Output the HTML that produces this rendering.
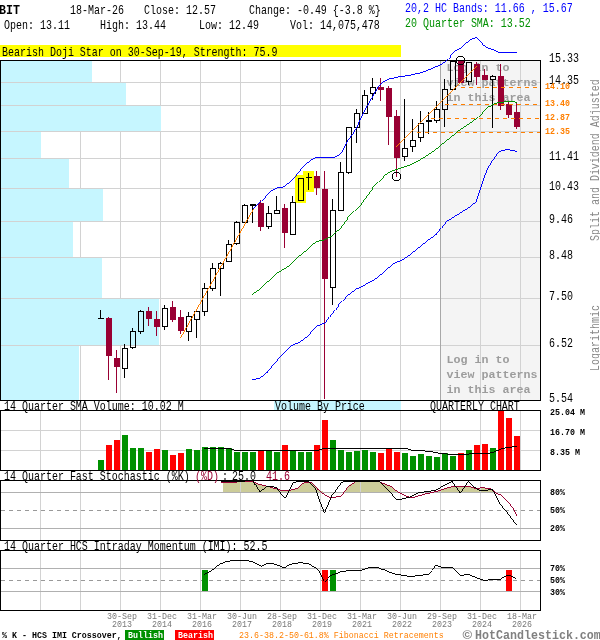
<!DOCTYPE html>
<html><head><meta charset="utf-8"><title>BIT Quarterly Chart</title>
<style>html,body{margin:0;padding:0;background:#fff}svg{display:block}</style></head>
<body>
<svg width="600" height="640" viewBox="0 0 600 640" shape-rendering="crispEdges" font-family="Liberation Mono, DejaVu Sans Mono, monospace">
<rect x="0" y="0" width="600" height="640" fill="#fff" />
<text transform="translate(-1,13.5) scale(0.9044,1)" font-size="12.9" fill="#000" font-weight="bold" text-anchor="start" xml:space="preserve" >BIT</text>
<text transform="translate(70,13.8) scale(0.8,1)" font-size="12.5" fill="#000" text-anchor="start" xml:space="preserve" >18-Mar-26</text>
<text transform="translate(144,13.8) scale(0.8,1)" font-size="12.5" fill="#000" text-anchor="start" xml:space="preserve" >Close: 12.57</text>
<text transform="translate(249,13.8) scale(0.8,1)" font-size="12.5" fill="#000" text-anchor="start" xml:space="preserve" >Change: -0.49 {-3.8 %}</text>
<text transform="translate(4,28.8) scale(0.8,1)" font-size="12.5" fill="#000" text-anchor="start" xml:space="preserve" >Open: 13.11</text>
<text transform="translate(100,28.8) scale(0.8,1)" font-size="12.5" fill="#000" text-anchor="start" xml:space="preserve" >High: 13.44</text>
<text transform="translate(199,28.8) scale(0.8,1)" font-size="12.5" fill="#000" text-anchor="start" xml:space="preserve" >Low: 12.49</text>
<text transform="translate(290,28.8) scale(0.8,1)" font-size="12.5" fill="#000" text-anchor="start" xml:space="preserve" >Vol: 14,075,478</text>
<text transform="translate(405,11.8) scale(0.8,1)" font-size="12.5" fill="#0000ff" text-anchor="start" xml:space="preserve" >20,2 HC Bands: 11.66 , 15.67</text>
<text transform="translate(405,26.8) scale(0.8,1)" font-size="12.5" fill="#009000" text-anchor="start" xml:space="preserve" >20 Quarter SMA: 13.52</text>
<rect x="0" y="45" width="401" height="12" fill="#ffff00" />
<text transform="translate(2,55.599999999999994) scale(0.8,1)" font-size="12.5" fill="#000" text-anchor="start" xml:space="preserve" >Bearish Doji Star on 30-Sep-19, Strength: 75.9</text>
<rect x="441" y="61" width="99" height="339" fill="#f4f4f4" />
<rect x="40" y="61" width="1" height="339" fill="#d2d2d2" />
<rect x="80" y="61" width="1" height="339" fill="#d2d2d2" />
<rect x="120" y="61" width="1" height="339" fill="#d2d2d2" />
<rect x="160" y="61" width="1" height="339" fill="#d2d2d2" />
<rect x="200" y="61" width="1" height="339" fill="#d2d2d2" />
<rect x="240" y="61" width="1" height="339" fill="#d2d2d2" />
<rect x="280" y="61" width="1" height="339" fill="#d2d2d2" />
<rect x="320" y="61" width="1" height="339" fill="#d2d2d2" />
<rect x="360" y="61" width="1" height="339" fill="#d2d2d2" />
<rect x="400" y="61" width="1" height="339" fill="#d2d2d2" />
<rect x="440" y="61" width="1" height="339" fill="#d2d2d2" />
<rect x="480" y="61" width="1" height="339" fill="#d2d2d2" />
<rect x="520" y="61" width="1" height="339" fill="#d2d2d2" />
<rect x="1" y="82" width="539" height="1" fill="#d2d2d2" />
<rect x="1" y="105" width="539" height="1" fill="#d2d2d2" />
<rect x="1" y="131" width="539" height="1" fill="#d2d2d2" />
<rect x="1" y="158" width="539" height="1" fill="#d2d2d2" />
<rect x="1" y="188" width="539" height="1" fill="#d2d2d2" />
<rect x="1" y="221" width="539" height="1" fill="#d2d2d2" />
<rect x="1" y="257" width="539" height="1" fill="#d2d2d2" />
<rect x="1" y="298" width="539" height="1" fill="#d2d2d2" />
<rect x="1" y="345" width="539" height="1" fill="#d2d2d2" />
<rect x="440" y="61" width="1" height="339" fill="#a8a8a8" />
<rect x="1" y="61" width="91" height="21" fill="#c6f6ff" />
<rect x="1" y="83" width="125" height="22" fill="#c6f6ff" />
<rect x="1" y="106" width="160" height="25" fill="#c6f6ff" />
<rect x="1" y="132" width="40" height="26" fill="#c6f6ff" />
<rect x="1" y="159" width="68" height="29" fill="#c6f6ff" />
<rect x="1" y="189" width="102" height="32" fill="#c6f6ff" />
<rect x="1" y="222" width="72" height="35" fill="#c6f6ff" />
<rect x="1" y="258" width="101" height="40" fill="#c6f6ff" />
<rect x="1" y="299" width="158" height="46" fill="#c6f6ff" />
<rect x="1" y="346" width="78" height="54" fill="#c6f6ff" />
<rect x="0" y="60" width="541" height="1" fill="#000" />
<rect x="0" y="400" width="541" height="1" fill="#000" />
<rect x="0" y="60" width="1" height="341" fill="#000" />
<rect x="540" y="60" width="1" height="341" fill="#000" />
<text transform="translate(446.5,71) scale(1.08,1)" font-size="10.8" fill="#9c9c9c" font-weight="bold" text-anchor="start" xml:space="preserve" >Log in to</text>
<text transform="translate(446.5,86) scale(1.08,1)" font-size="10.8" fill="#9c9c9c" font-weight="bold" text-anchor="start" xml:space="preserve" >view patterns</text>
<text transform="translate(446.5,101) scale(1.08,1)" font-size="10.8" fill="#9c9c9c" font-weight="bold" text-anchor="start" xml:space="preserve" >in this area</text>
<text transform="translate(446.5,362.5) scale(1.08,1)" font-size="10.8" fill="#9c9c9c" font-weight="bold" text-anchor="start" xml:space="preserve" >Log in to</text>
<text transform="translate(446.5,377.5) scale(1.08,1)" font-size="10.8" fill="#9c9c9c" font-weight="bold" text-anchor="start" xml:space="preserve" >view patterns</text>
<text transform="translate(446.5,392.5) scale(1.08,1)" font-size="10.8" fill="#9c9c9c" font-weight="bold" text-anchor="start" xml:space="preserve" >in this area</text>
<rect x="295" y="175" width="11" height="28" fill="#ffff00" />
<rect x="303" y="171" width="11" height="21" fill="#ffff00" />
<rect x="100" y="310" width="1" height="9" fill="#000" />
<rect x="98" y="318" width="6" height="1" fill="#000" />
<rect x="108" y="317" width="1" height="63" fill="#990033" />
<rect x="106" y="318" width="6" height="38" fill="#990033" />
<rect x="116" y="350" width="1" height="43" fill="#990033" />
<rect x="114" y="358" width="6" height="9" fill="#990033" />
<rect x="124" y="344" width="1" height="4" fill="#000" />
<rect x="124" y="369" width="1" height="9" fill="#000" />
<rect x="122.5" y="348.5" width="5" height="20" fill="none" stroke="#000" stroke-width="1"/>
<rect x="132" y="328" width="1" height="3" fill="#000" />
<rect x="132" y="348" width="1" height="1" fill="#000" />
<rect x="130.5" y="331.5" width="5" height="16" fill="none" stroke="#000" stroke-width="1"/>
<rect x="140" y="310" width="1" height="1" fill="#000" />
<rect x="140" y="332" width="1" height="2" fill="#000" />
<rect x="138.5" y="311.5" width="5" height="20" fill="none" stroke="#000" stroke-width="1"/>
<rect x="148" y="307" width="1" height="19" fill="#990033" />
<rect x="146" y="311" width="6" height="8" fill="#990033" />
<rect x="156" y="311" width="1" height="25" fill="#990033" />
<rect x="154" y="319" width="6" height="8" fill="#990033" />
<rect x="164" y="305" width="1" height="3" fill="#000" />
<rect x="164" y="327" width="1" height="3" fill="#000" />
<rect x="162.5" y="308.5" width="5" height="18" fill="none" stroke="#000" stroke-width="1"/>
<rect x="172" y="301" width="1" height="21" fill="#990033" />
<rect x="170" y="307" width="6" height="13" fill="#990033" />
<rect x="180" y="310" width="1" height="24" fill="#990033" />
<rect x="178" y="317" width="6" height="14" fill="#990033" />
<rect x="188" y="312" width="1" height="4" fill="#000" />
<rect x="188" y="332" width="1" height="9" fill="#000" />
<rect x="186.5" y="316.5" width="5" height="15" fill="none" stroke="#000" stroke-width="1"/>
<rect x="196" y="320" width="1" height="18" fill="#000" />
<rect x="194.5" y="311.5" width="5" height="8" fill="none" stroke="#000" stroke-width="1"/>
<rect x="204" y="283" width="1" height="5" fill="#000" />
<rect x="204" y="312" width="1" height="4" fill="#000" />
<rect x="202.5" y="288.5" width="5" height="23" fill="none" stroke="#000" stroke-width="1"/>
<rect x="212" y="263" width="1" height="5" fill="#000" />
<rect x="212" y="289" width="1" height="2" fill="#000" />
<rect x="210.5" y="268.5" width="5" height="20" fill="none" stroke="#000" stroke-width="1"/>
<rect x="220" y="262" width="1" height="1" fill="#000" />
<rect x="220" y="269" width="1" height="27" fill="#000" />
<rect x="218.5" y="263.5" width="5" height="5" fill="none" stroke="#000" stroke-width="1"/>
<rect x="228" y="240" width="1" height="4" fill="#000" />
<rect x="226.5" y="244.5" width="5" height="17" fill="none" stroke="#000" stroke-width="1"/>
<rect x="236" y="221" width="1" height="1" fill="#000" />
<rect x="236" y="244" width="1" height="1" fill="#000" />
<rect x="234.5" y="222.5" width="5" height="21" fill="none" stroke="#000" stroke-width="1"/>
<rect x="244" y="204" width="1" height="1" fill="#000" />
<rect x="242.5" y="205.5" width="5" height="17" fill="none" stroke="#000" stroke-width="1"/>
<rect x="252" y="204" width="1" height="19" fill="#000" />
<rect x="250" y="204" width="6" height="2" fill="#000" />
<rect x="260" y="200" width="1" height="31" fill="#990033" />
<rect x="258" y="203" width="6" height="24" fill="#990033" />
<rect x="268" y="206" width="1" height="7" fill="#000" />
<rect x="268" y="227" width="1" height="2" fill="#000" />
<rect x="266.5" y="213.5" width="5" height="13" fill="none" stroke="#000" stroke-width="1"/>
<rect x="276" y="196" width="1" height="14" fill="#000" />
<rect x="274.5" y="210.5" width="5" height="3" fill="none" stroke="#000" stroke-width="1"/>
<rect x="284" y="204" width="1" height="44" fill="#990033" />
<rect x="282" y="208" width="6" height="25" fill="#990033" />
<rect x="292" y="196" width="1" height="6" fill="#000" />
<rect x="290.5" y="202.5" width="5" height="32" fill="none" stroke="#000" stroke-width="1"/>
<rect x="298.5" y="178.5" width="5" height="22" fill="none" stroke="#000" stroke-width="1"/>
<rect x="308" y="173" width="1" height="17" fill="#000" />
<rect x="306" y="177" width="6" height="1" fill="#000" />
<rect x="316" y="171" width="1" height="24" fill="#990033" />
<rect x="314" y="176" width="6" height="12" fill="#990033" />
<rect x="324" y="171" width="1" height="228" fill="#990033" />
<rect x="322" y="189" width="6" height="90" fill="#990033" />
<rect x="332" y="199" width="1" height="11" fill="#000" />
<rect x="332" y="288" width="1" height="17" fill="#000" />
<rect x="330.5" y="210.5" width="5" height="77" fill="none" stroke="#000" stroke-width="1"/>
<rect x="340" y="162" width="1" height="10" fill="#000" />
<rect x="338.5" y="172.5" width="5" height="38" fill="none" stroke="#000" stroke-width="1"/>
<rect x="348" y="173" width="1" height="1" fill="#000" />
<rect x="346.5" y="127.5" width="5" height="45" fill="none" stroke="#000" stroke-width="1"/>
<rect x="356" y="109" width="1" height="4" fill="#000" />
<rect x="356" y="128" width="1" height="15" fill="#000" />
<rect x="354.5" y="113.5" width="5" height="14" fill="none" stroke="#000" stroke-width="1"/>
<rect x="364" y="90" width="1" height="5" fill="#000" />
<rect x="362.5" y="95.5" width="5" height="18" fill="none" stroke="#000" stroke-width="1"/>
<rect x="372" y="78" width="1" height="9" fill="#000" />
<rect x="372" y="94" width="1" height="6" fill="#000" />
<rect x="370.5" y="87.5" width="5" height="6" fill="none" stroke="#000" stroke-width="1"/>
<rect x="380" y="78" width="1" height="23" fill="#990033" />
<rect x="378" y="87" width="6" height="3" fill="#990033" />
<rect x="388" y="86" width="1" height="59" fill="#990033" />
<rect x="386" y="88" width="6" height="29" fill="#990033" />
<rect x="396" y="110" width="1" height="67" fill="#990033" />
<rect x="394" y="116" width="6" height="42" fill="#990033" />
<rect x="404" y="99" width="1" height="49" fill="#000" />
<rect x="404" y="157" width="1" height="4" fill="#000" />
<rect x="402.5" y="148.5" width="5" height="8" fill="none" stroke="#000" stroke-width="1"/>
<rect x="412" y="119" width="1" height="21" fill="#000" />
<rect x="412" y="147" width="1" height="5" fill="#000" />
<rect x="410.5" y="140.5" width="5" height="6" fill="none" stroke="#000" stroke-width="1"/>
<rect x="420" y="111" width="1" height="12" fill="#000" />
<rect x="420" y="138" width="1" height="4" fill="#000" />
<rect x="418.5" y="123.5" width="5" height="14" fill="none" stroke="#000" stroke-width="1"/>
<rect x="428" y="112" width="1" height="22" fill="#000" />
<rect x="426" y="120" width="6" height="2" fill="#000" />
<rect x="436" y="101" width="1" height="8" fill="#000" />
<rect x="436" y="121" width="1" height="2" fill="#000" />
<rect x="434.5" y="109.5" width="5" height="11" fill="none" stroke="#000" stroke-width="1"/>
<rect x="444" y="79" width="1" height="10" fill="#000" />
<rect x="444" y="110" width="1" height="17" fill="#000" />
<rect x="442.5" y="89.5" width="5" height="20" fill="none" stroke="#000" stroke-width="1"/>
<rect x="450.5" y="61.5" width="5" height="28" fill="none" stroke="#000" stroke-width="1"/>
<rect x="460" y="61" width="1" height="22" fill="#990033" />
<rect x="458" y="61" width="6" height="22" fill="#990033" />
<rect x="468" y="82" width="1" height="3" fill="#000" />
<rect x="466.5" y="62.5" width="5" height="19" fill="none" stroke="#000" stroke-width="1"/>
<rect x="476" y="62" width="1" height="23" fill="#990033" />
<rect x="474" y="64" width="6" height="13" fill="#990033" />
<rect x="484" y="69" width="1" height="10" fill="#990033" />
<rect x="482" y="75" width="6" height="5" fill="#990033" />
<rect x="492" y="75" width="1" height="1" fill="#000" />
<rect x="492" y="80" width="1" height="48" fill="#000" />
<rect x="490.5" y="76.5" width="5" height="3" fill="none" stroke="#000" stroke-width="1"/>
<rect x="500" y="64" width="1" height="46" fill="#990033" />
<rect x="498" y="76" width="6" height="30" fill="#990033" />
<rect x="508" y="102" width="1" height="16" fill="#990033" />
<rect x="506" y="104" width="6" height="11" fill="#990033" />
<rect x="516" y="102" width="1" height="27" fill="#990033" />
<rect x="514" y="112" width="6" height="15" fill="#990033" />
<rect x="461" y="87" width="4" height="1" fill="#ff7f00" />
<rect x="469" y="87" width="4" height="1" fill="#ff7f00" />
<rect x="477" y="87" width="4" height="1" fill="#ff7f00" />
<rect x="485" y="87" width="4" height="1" fill="#ff7f00" />
<rect x="493" y="87" width="4" height="1" fill="#ff7f00" />
<rect x="501" y="87" width="4" height="1" fill="#ff7f00" />
<rect x="509" y="87" width="4" height="1" fill="#ff7f00" />
<rect x="517" y="87" width="4" height="1" fill="#ff7f00" />
<rect x="525" y="87" width="4" height="1" fill="#ff7f00" />
<rect x="533" y="87" width="4" height="1" fill="#ff7f00" />
<rect x="445" y="104" width="4" height="1" fill="#ff7f00" />
<rect x="453" y="104" width="4" height="1" fill="#ff7f00" />
<rect x="461" y="104" width="4" height="1" fill="#ff7f00" />
<rect x="469" y="104" width="4" height="1" fill="#ff7f00" />
<rect x="477" y="104" width="4" height="1" fill="#ff7f00" />
<rect x="485" y="104" width="4" height="1" fill="#ff7f00" />
<rect x="493" y="104" width="4" height="1" fill="#ff7f00" />
<rect x="501" y="104" width="4" height="1" fill="#ff7f00" />
<rect x="509" y="104" width="4" height="1" fill="#ff7f00" />
<rect x="517" y="104" width="4" height="1" fill="#ff7f00" />
<rect x="525" y="104" width="4" height="1" fill="#ff7f00" />
<rect x="533" y="104" width="4" height="1" fill="#ff7f00" />
<rect x="431" y="118" width="4" height="1" fill="#ff7f00" />
<rect x="439" y="118" width="4" height="1" fill="#ff7f00" />
<rect x="447" y="118" width="4" height="1" fill="#ff7f00" />
<rect x="455" y="118" width="4" height="1" fill="#ff7f00" />
<rect x="463" y="118" width="4" height="1" fill="#ff7f00" />
<rect x="471" y="118" width="4" height="1" fill="#ff7f00" />
<rect x="479" y="118" width="4" height="1" fill="#ff7f00" />
<rect x="487" y="118" width="4" height="1" fill="#ff7f00" />
<rect x="495" y="118" width="4" height="1" fill="#ff7f00" />
<rect x="503" y="118" width="4" height="1" fill="#ff7f00" />
<rect x="511" y="118" width="4" height="1" fill="#ff7f00" />
<rect x="519" y="118" width="4" height="1" fill="#ff7f00" />
<rect x="527" y="118" width="4" height="1" fill="#ff7f00" />
<rect x="535" y="118" width="4" height="1" fill="#ff7f00" />
<rect x="417" y="132" width="4" height="1" fill="#ff7f00" />
<rect x="425" y="132" width="4" height="1" fill="#ff7f00" />
<rect x="433" y="132" width="4" height="1" fill="#ff7f00" />
<rect x="441" y="132" width="4" height="1" fill="#ff7f00" />
<rect x="449" y="132" width="4" height="1" fill="#ff7f00" />
<rect x="457" y="132" width="4" height="1" fill="#ff7f00" />
<rect x="465" y="132" width="4" height="1" fill="#ff7f00" />
<rect x="473" y="132" width="4" height="1" fill="#ff7f00" />
<rect x="481" y="132" width="4" height="1" fill="#ff7f00" />
<rect x="489" y="132" width="4" height="1" fill="#ff7f00" />
<rect x="497" y="132" width="4" height="1" fill="#ff7f00" />
<rect x="505" y="132" width="4" height="1" fill="#ff7f00" />
<rect x="513" y="132" width="4" height="1" fill="#ff7f00" />
<rect x="521" y="132" width="4" height="1" fill="#ff7f00" />
<rect x="529" y="132" width="4" height="1" fill="#ff7f00" />
<rect x="537" y="132" width="3" height="1" fill="#ff7f00" />
<line x1="180.5" y1="338" x2="253.5" y2="209" stroke="#ff7f00" stroke-width="0.99"/>
<line x1="395" y1="146.5" x2="476" y2="65.5" stroke="#ff7f00" stroke-width="0.99"/>
<polyline fill="none" stroke="#0000ff" stroke-width="0.99" points="252.5,208.8 260.6,201.3 268.8,192.5 273.8,189.4 277.5,187.8 284.4,186.5 290,181.9 295,176.9 300,170.6 305,165 311,160 317,157 321,157.5 333.8,157.5 338.8,155 341.9,151.9 346.3,143 352.5,133.8 358.8,122.5 365,110 371.3,98.8 377.5,88 382.5,81.9 387.5,79 396.3,77.3 405,76 411,75 415,74 422.3,72.5 429.7,69.4 437,66.3 444.3,62.6 448,59.3 450,56.5 451.7,53.8 455.3,51.1 460.8,48 465.4,43.8 470,40 473.5,38.3 476.4,37.3 479.2,40 483.8,45.6 488.3,48 493.8,49.8 499.3,52.4 517,52.4"/>
<polyline fill="none" stroke="#0000ff" stroke-width="0.99" points="252,380 260,378 267,372.5 274,364 280,357 286,351 292,345.5 300,342 308,336 313,330 317,326 325,323 329,317 333,311.5 335,310 338,305.5 341.3,301.3 345,297.5 350,293.8 357.5,288 366.3,283.8 375,279.4 381,274.5 386,270 394,263.5 402,260 411,254 419,247.5 427,241 436,234.5 441,228 445,222.5 453,217.5 461,212.5 469,207.5 476,202 478,196 481,187 484,178 487,170 491.8,161.3 496,154.5 500.8,150.8 507.5,149.5 512.8,150.5 517,151.5"/>
<polyline fill="none" stroke="#009000" stroke-width="0.99" points="252,294.5 259,290 268,281.5 277,273 286,268 291,264 295,260 300,255.5 306.3,250.5 311,246 316.3,241.5 324,240 331,236.5 338,230.5 347,218.5 354,211 361,203.5 366,196.5 372,188.5 378,182 383,176.5 388,173 392,171 398,169 402,167.5 410,165 419,160.5 428,155 437,148.5 440,146 449,138.8 458,131.3 467,125.3 473,121 478.3,116.8 482.5,112.5 486.8,108.2 489.5,106.3 492.4,104.6 496,103.3 499.5,102.4 508,101.3 513.5,101.8 517,102.6"/>
<rect x="394" y="172" width="5" height="1" fill="#000" />
<rect x="394" y="180" width="5" height="1" fill="#000" />
<rect x="392" y="174" width="1" height="5" fill="#000" />
<rect x="400" y="174" width="1" height="5" fill="#000" />
<rect x="393" y="173" width="1" height="1" fill="#000" />
<rect x="399" y="173" width="1" height="1" fill="#000" />
<rect x="393" y="179" width="1" height="1" fill="#000" />
<rect x="399" y="179" width="1" height="1" fill="#000" />
<rect x="458" y="56" width="5" height="1" fill="#000" />
<rect x="458" y="64" width="5" height="1" fill="#000" />
<rect x="456" y="58" width="1" height="5" fill="#000" />
<rect x="464" y="58" width="1" height="5" fill="#000" />
<rect x="457" y="57" width="1" height="1" fill="#000" />
<rect x="463" y="57" width="1" height="1" fill="#000" />
<rect x="457" y="63" width="1" height="1" fill="#000" />
<rect x="463" y="63" width="1" height="1" fill="#000" />
<text transform="translate(549,61.8) scale(0.8,1)" font-size="12.5" fill="#000" text-anchor="start" xml:space="preserve" >15.33</text>
<text transform="translate(549,83.8) scale(0.8,1)" font-size="12.5" fill="#000" text-anchor="start" xml:space="preserve" >14.35</text>
<text transform="translate(549,159.8) scale(0.8,1)" font-size="12.5" fill="#000" text-anchor="start" xml:space="preserve" >11.41</text>
<text transform="translate(549,189.8) scale(0.8,1)" font-size="12.5" fill="#000" text-anchor="start" xml:space="preserve" >10.43</text>
<text transform="translate(549,222.8) scale(0.8,1)" font-size="12.5" fill="#000" text-anchor="start" xml:space="preserve" >9.46</text>
<text transform="translate(549,258.8) scale(0.8,1)" font-size="12.5" fill="#000" text-anchor="start" xml:space="preserve" >8.48</text>
<text transform="translate(549,299.8) scale(0.8,1)" font-size="12.5" fill="#000" text-anchor="start" xml:space="preserve" >7.50</text>
<text transform="translate(549,346.8) scale(0.8,1)" font-size="12.5" fill="#000" text-anchor="start" xml:space="preserve" >6.52</text>
<text transform="translate(549,401.8) scale(0.8,1)" font-size="12.5" fill="#000" text-anchor="start" xml:space="preserve" >5.54</text>
<text transform="translate(545,89) scale(0.896,1)" font-size="9.3" fill="#ff7f00" font-weight="bold" text-anchor="start" xml:space="preserve" >14.10</text>
<text transform="translate(545,106) scale(0.896,1)" font-size="9.3" fill="#ff7f00" font-weight="bold" text-anchor="start" xml:space="preserve" >13.40</text>
<text transform="translate(545,120) scale(0.896,1)" font-size="9.3" fill="#ff7f00" font-weight="bold" text-anchor="start" xml:space="preserve" >12.87</text>
<text transform="translate(545,134) scale(0.896,1)" font-size="9.3" fill="#ff7f00" font-weight="bold" text-anchor="start" xml:space="preserve" >12.35</text>
<text transform="translate(598.5,241) rotate(-90) scale(0.8,1)" font-size="12.5" fill="#888">Split and Dividend Adjusted</text>
<text transform="translate(598.5,371) rotate(-90) scale(0.8,1)" font-size="12.5" fill="#888">Logarithmic</text>
<text transform="translate(4,410.2) scale(0.8,1)" font-size="12.5" fill="#000" text-anchor="start" xml:space="preserve" >14 Quarter SMA Volume: 10.02 M</text>
<rect x="274" y="401" width="127" height="9" fill="#c6f6ff" />
<text transform="translate(275,410.2) scale(0.8,1)" font-size="12.5" fill="#000" text-anchor="start" xml:space="preserve" >Volume By Price</text>
<text transform="translate(430,410.2) scale(0.8,1)" font-size="12.5" fill="#000" text-anchor="start" xml:space="preserve" >QUARTERLY CHART</text>
<rect x="40" y="411" width="1" height="59" fill="#d2d2d2" />
<rect x="80" y="411" width="1" height="59" fill="#d2d2d2" />
<rect x="120" y="411" width="1" height="59" fill="#d2d2d2" />
<rect x="160" y="411" width="1" height="59" fill="#d2d2d2" />
<rect x="200" y="411" width="1" height="59" fill="#d2d2d2" />
<rect x="240" y="411" width="1" height="59" fill="#d2d2d2" />
<rect x="280" y="411" width="1" height="59" fill="#d2d2d2" />
<rect x="320" y="411" width="1" height="59" fill="#d2d2d2" />
<rect x="360" y="411" width="1" height="59" fill="#d2d2d2" />
<rect x="400" y="411" width="1" height="59" fill="#d2d2d2" />
<rect x="440" y="411" width="1" height="59" fill="#d2d2d2" />
<rect x="480" y="411" width="1" height="59" fill="#d2d2d2" />
<rect x="520" y="411" width="1" height="59" fill="#d2d2d2" />
<rect x="1" y="430" width="539" height="1" fill="#d2d2d2" />
<rect x="1" y="450" width="539" height="1" fill="#d2d2d2" />
<rect x="98" y="460" width="6" height="10" fill="#009000" />
<rect x="106" y="445" width="6" height="25" fill="#ff0000" />
<rect x="114" y="440" width="6" height="30" fill="#ff0000" />
<rect x="122" y="435" width="6" height="35" fill="#009000" />
<rect x="130" y="448" width="6" height="22" fill="#009000" />
<rect x="138" y="448" width="6" height="22" fill="#009000" />
<rect x="146" y="452" width="6" height="18" fill="#ff0000" />
<rect x="154" y="449" width="6" height="21" fill="#ff0000" />
<rect x="162" y="450" width="6" height="20" fill="#009000" />
<rect x="170" y="455" width="6" height="15" fill="#ff0000" />
<rect x="178" y="453" width="6" height="17" fill="#ff0000" />
<rect x="186" y="449" width="6" height="21" fill="#009000" />
<rect x="194" y="450" width="6" height="20" fill="#009000" />
<rect x="202" y="447" width="6" height="23" fill="#009000" />
<rect x="210" y="447" width="6" height="23" fill="#009000" />
<rect x="218" y="447" width="6" height="23" fill="#009000" />
<rect x="226" y="448" width="6" height="22" fill="#009000" />
<rect x="234" y="452" width="6" height="18" fill="#009000" />
<rect x="242" y="452" width="6" height="18" fill="#009000" />
<rect x="250" y="452" width="6" height="18" fill="#009000" />
<rect x="258" y="450" width="6" height="20" fill="#ff0000" />
<rect x="266" y="450" width="6" height="20" fill="#009000" />
<rect x="274" y="452" width="6" height="18" fill="#009000" />
<rect x="282" y="445" width="6" height="25" fill="#ff0000" />
<rect x="290" y="450" width="6" height="20" fill="#009000" />
<rect x="298" y="452" width="6" height="18" fill="#009000" />
<rect x="306" y="452" width="6" height="18" fill="#009000" />
<rect x="314" y="445" width="6" height="25" fill="#ff0000" />
<rect x="322" y="420" width="6" height="50" fill="#ff0000" />
<rect x="330" y="440" width="6" height="30" fill="#009000" />
<rect x="338" y="450" width="6" height="20" fill="#009000" />
<rect x="346" y="452" width="6" height="18" fill="#009000" />
<rect x="354" y="451" width="6" height="19" fill="#009000" />
<rect x="362" y="450" width="6" height="20" fill="#009000" />
<rect x="370" y="452" width="6" height="18" fill="#009000" />
<rect x="378" y="453" width="6" height="17" fill="#ff0000" />
<rect x="386" y="448" width="6" height="22" fill="#ff0000" />
<rect x="394" y="452" width="6" height="18" fill="#ff0000" />
<rect x="402" y="453" width="6" height="17" fill="#009000" />
<rect x="410" y="456" width="6" height="14" fill="#009000" />
<rect x="418" y="454" width="6" height="16" fill="#009000" />
<rect x="426" y="456" width="6" height="14" fill="#009000" />
<rect x="434" y="457" width="6" height="13" fill="#009000" />
<rect x="442" y="453" width="6" height="17" fill="#009000" />
<rect x="450" y="456" width="6" height="14" fill="#009000" />
<rect x="458" y="453" width="6" height="17" fill="#ff0000" />
<rect x="466" y="450" width="6" height="20" fill="#009000" />
<rect x="474" y="445" width="6" height="25" fill="#ff0000" />
<rect x="482" y="444" width="6" height="26" fill="#ff0000" />
<rect x="490" y="448" width="6" height="22" fill="#009000" />
<rect x="498" y="411" width="6" height="59" fill="#ff0000" />
<rect x="506" y="418" width="6" height="52" fill="#ff0000" />
<rect x="514" y="436" width="6" height="34" fill="#ff0000" />
<polyline fill="none" stroke="#000" stroke-width="0.99" points="204,449 230,448.5 235,450.5 318,450.5 323,448.5 406,448.5 411,450 420,450.5 430,451.5 440,453.5 453,454.5 488,453.4 493,452.4 498.6,450 503,448.4 510.6,447.2 517,446.5"/>
<rect x="0" y="410" width="541" height="1" fill="#000" />
<rect x="0" y="470" width="541" height="1" fill="#000" />
<rect x="0" y="410" width="1" height="61" fill="#000" />
<rect x="540" y="410" width="1" height="61" fill="#000" />
<text transform="translate(550,415) scale(0.896,1)" font-size="9.3" fill="#000" font-weight="bold" text-anchor="start" xml:space="preserve" >25.04 </text>
<text transform="translate(580,415) scale(0.896,1)" font-size="9.3" fill="#000" font-weight="bold" text-anchor="start" xml:space="preserve" >M</text>
<text transform="translate(550,435) scale(0.896,1)" font-size="9.3" fill="#000" font-weight="bold" text-anchor="start" xml:space="preserve" >16.70 </text>
<text transform="translate(580,435) scale(0.896,1)" font-size="9.3" fill="#000" font-weight="bold" text-anchor="start" xml:space="preserve" >M</text>
<text transform="translate(550,455) scale(0.896,1)" font-size="9.3" fill="#000" font-weight="bold" text-anchor="start" xml:space="preserve" >8.35 </text>
<text transform="translate(575,455) scale(0.896,1)" font-size="9.3" fill="#000" font-weight="bold" text-anchor="start" xml:space="preserve" >M</text>
<polygon fill="#cccc99" points="223,492.5 223,482.4 253,481.5 258,484 264,485.5 270,487 275,488.5 280,490 286,490.5 291,490 297,488.5 301,485 305,482 312,483 318,489.5 325,492.5 331,492.5 341,492.5 345,491 349.5,485 355,482 360,480.5 380,482 388.5,485.5 394,489 399,492.5 405,492.5 412,492.5 418,492.5 425,492.5 432,492.5 438,491 439.6,490.3 449,487.5 455,486 466.4,486 471,486.9 477,488.8 482.7,487.5 487.5,488.4 492.3,489.4 496,492.5 500,492.5 504.8,492.5 509.5,492.5 513.4,492.5 516.6,492.5 516.6,492.5"/>
<rect x="40" y="481" width="1" height="59" fill="#d2d2d2" />
<rect x="80" y="481" width="1" height="59" fill="#d2d2d2" />
<rect x="120" y="481" width="1" height="59" fill="#d2d2d2" />
<rect x="160" y="481" width="1" height="59" fill="#d2d2d2" />
<rect x="200" y="481" width="1" height="59" fill="#d2d2d2" />
<rect x="240" y="481" width="1" height="59" fill="#d2d2d2" />
<rect x="280" y="481" width="1" height="59" fill="#d2d2d2" />
<rect x="320" y="481" width="1" height="59" fill="#d2d2d2" />
<rect x="360" y="481" width="1" height="59" fill="#d2d2d2" />
<rect x="400" y="481" width="1" height="59" fill="#d2d2d2" />
<rect x="440" y="481" width="1" height="59" fill="#d2d2d2" />
<rect x="480" y="481" width="1" height="59" fill="#d2d2d2" />
<rect x="520" y="481" width="1" height="59" fill="#d2d2d2" />
<rect x="1" y="492" width="539" height="1" fill="#b0b0b0" />
<rect x="1" y="528" width="539" height="1" fill="#b0b0b0" />
<line x1="1" y1="510.5" x2="540" y2="510.5" stroke="#999" stroke-width="1" stroke-dasharray="4 4"/>
<polyline fill="none" stroke="#990033" stroke-width="0.99" points="221,482.5 253,481.5 258,484 264,485.5 270,487 275,488.5 280,490 286,490.5 291,490 297,488.5 301,485 305,482 312,483 318,489.5 325,495 331,498 341,496 345,491 349.5,485 355,482 360,480.5 380,482 388.5,485.5 394,489 399,492.5 405,495.5 412,498 418,496 425,494 432,492.5 438,491 439.6,490.3 449,487.5 455,486 466.4,486 471,486.9 477,488.8 482.7,487.5 487.5,488.4 492.3,489.4 496,493.2 500,494.5 504.8,499 509.5,503.8 513.4,509 516.6,515.6"/>
<polyline fill="none" stroke="#000" stroke-width="0.99" points="221,482 237,481.5 253,480.5 260,492 267,486 277,487.5 285,497.5 292,483.5 299,481 308,481 316,489.5 324.5,513 332.5,494 340,483.5 345,481 380,482 384,486 389,491 397,500 404,498.5 410,497 419,492.5 428,491.5 436,490 444,485.5 452,481.3 460.3,493.2 468.3,481.3 476,488.4 480.8,490.7 485.6,490.3 492.3,489.4 496,496 500.5,504.7 508.6,514.3 516.6,525.2"/>
<rect x="0" y="480" width="541" height="1" fill="#000" />
<rect x="0" y="540" width="541" height="1" fill="#000" />
<rect x="0" y="480" width="1" height="61" fill="#000" />
<rect x="540" y="480" width="1" height="61" fill="#000" />
<text transform="translate(4,480.2) scale(0.8,1)" font-size="12.5" fill="#000" text-anchor="start" xml:space="preserve" >14 Quarter Fast Stochastic (%K)</text>
<text transform="translate(195,480.2) scale(0.8,1)" font-size="12.5" fill="#990033" text-anchor="start" xml:space="preserve" >(%D)</text>
<text transform="translate(222,480.2) scale(0.8,1)" font-size="12.5" fill="#000" text-anchor="start" xml:space="preserve" >:</text>
<text transform="translate(232,480.2) scale(0.8,1)" font-size="12.5" fill="#000" text-anchor="start" xml:space="preserve" >25.0</text>
<text transform="translate(266,480.2) scale(0.8,1)" font-size="12.5" fill="#990033" text-anchor="start" xml:space="preserve" >41.6</text>
<text transform="translate(550,495) scale(0.896,1)" font-size="9.3" fill="#000" font-weight="bold" text-anchor="start" xml:space="preserve" >80%</text>
<text transform="translate(550,513) scale(0.896,1)" font-size="9.3" fill="#000" font-weight="bold" text-anchor="start" xml:space="preserve" >50%</text>
<text transform="translate(550,531) scale(0.896,1)" font-size="9.3" fill="#000" font-weight="bold" text-anchor="start" xml:space="preserve" >20%</text>
<rect x="40" y="551" width="1" height="59" fill="#d2d2d2" />
<rect x="80" y="551" width="1" height="59" fill="#d2d2d2" />
<rect x="120" y="551" width="1" height="59" fill="#d2d2d2" />
<rect x="160" y="551" width="1" height="59" fill="#d2d2d2" />
<rect x="200" y="551" width="1" height="59" fill="#d2d2d2" />
<rect x="240" y="551" width="1" height="59" fill="#d2d2d2" />
<rect x="280" y="551" width="1" height="59" fill="#d2d2d2" />
<rect x="320" y="551" width="1" height="59" fill="#d2d2d2" />
<rect x="360" y="551" width="1" height="59" fill="#d2d2d2" />
<rect x="400" y="551" width="1" height="59" fill="#d2d2d2" />
<rect x="440" y="551" width="1" height="59" fill="#d2d2d2" />
<rect x="480" y="551" width="1" height="59" fill="#d2d2d2" />
<rect x="520" y="551" width="1" height="59" fill="#d2d2d2" />
<rect x="1" y="568" width="539" height="1" fill="#b0b0b0" />
<rect x="1" y="591" width="539" height="1" fill="#b0b0b0" />
<line x1="1" y1="580.5" x2="540" y2="580.5" stroke="#999" stroke-width="1" stroke-dasharray="4 4"/>
<rect x="202" y="570" width="6" height="21" fill="#009000" />
<rect x="322" y="570" width="6" height="21" fill="#ff0000" />
<rect x="330" y="570" width="6" height="21" fill="#009000" />
<rect x="506" y="570" width="6" height="21" fill="#ff0000" />
<polyline fill="none" stroke="#000" stroke-width="0.99" points="204,574.5 211,571 216,567 220,564 225,562 230,561 237,560.3 245,560 249,561 252.5,562 257,564 260.5,566 264,564.5 269,563 276,564.5 280,566 284,568 288,565.5 292.5,563.8 300,562.5 307.5,563.8 312,566 316,568 320,572.5 324.5,581 328,578 331,575.5 335,574 340,572 347.5,570.8 360,570.5 366,568.5 371,567 376,567 382.5,569.5 392.5,573.8 402.5,575.5 411,576.8 417.5,575.5 427.5,574.3 432,570 436,565 439,566.5 442.5,567.5 453,567.5 457,571.5 461,575.5 467.5,574.3 475,577.5 484,580.5 492.5,579.5 500,579.5 504,577 508,575 512,576.5 516,578.3"/>
<rect x="0" y="550" width="541" height="1" fill="#000" />
<rect x="0" y="610" width="541" height="1" fill="#000" />
<rect x="0" y="550" width="1" height="61" fill="#000" />
<rect x="540" y="550" width="1" height="61" fill="#000" />
<text transform="translate(4,550.1999999999999) scale(0.8,1)" font-size="12.5" fill="#000" text-anchor="start" xml:space="preserve" >14 Quarter HCS Intraday Momentum (IMI): 52.5</text>
<text transform="translate(550,571) scale(0.896,1)" font-size="9.3" fill="#000" font-weight="bold" text-anchor="start" xml:space="preserve" >70%</text>
<text transform="translate(550,583) scale(0.896,1)" font-size="9.3" fill="#000" font-weight="bold" text-anchor="start" xml:space="preserve" >50%</text>
<text transform="translate(550,595) scale(0.896,1)" font-size="9.3" fill="#000" font-weight="bold" text-anchor="start" xml:space="preserve" >30%</text>
<text transform="translate(107,619) scale(0.896,1)" font-size="9.3" fill="#777" text-anchor="start" xml:space="preserve" >30-Sep</text>
<text transform="translate(112,627) scale(0.896,1)" font-size="9.3" fill="#777" text-anchor="start" xml:space="preserve" >2013</text>
<text transform="translate(147,619) scale(0.896,1)" font-size="9.3" fill="#777" text-anchor="start" xml:space="preserve" >31-Dec</text>
<text transform="translate(152,627) scale(0.896,1)" font-size="9.3" fill="#777" text-anchor="start" xml:space="preserve" >2014</text>
<text transform="translate(187,619) scale(0.896,1)" font-size="9.3" fill="#777" text-anchor="start" xml:space="preserve" >31-Mar</text>
<text transform="translate(192,627) scale(0.896,1)" font-size="9.3" fill="#777" text-anchor="start" xml:space="preserve" >2016</text>
<text transform="translate(227,619) scale(0.896,1)" font-size="9.3" fill="#777" text-anchor="start" xml:space="preserve" >30-Jun</text>
<text transform="translate(232,627) scale(0.896,1)" font-size="9.3" fill="#777" text-anchor="start" xml:space="preserve" >2017</text>
<text transform="translate(267,619) scale(0.896,1)" font-size="9.3" fill="#777" text-anchor="start" xml:space="preserve" >28-Sep</text>
<text transform="translate(272,627) scale(0.896,1)" font-size="9.3" fill="#777" text-anchor="start" xml:space="preserve" >2018</text>
<text transform="translate(307,619) scale(0.896,1)" font-size="9.3" fill="#777" text-anchor="start" xml:space="preserve" >31-Dec</text>
<text transform="translate(312,627) scale(0.896,1)" font-size="9.3" fill="#777" text-anchor="start" xml:space="preserve" >2019</text>
<text transform="translate(347,619) scale(0.896,1)" font-size="9.3" fill="#777" text-anchor="start" xml:space="preserve" >31-Mar</text>
<text transform="translate(352,627) scale(0.896,1)" font-size="9.3" fill="#777" text-anchor="start" xml:space="preserve" >2021</text>
<text transform="translate(387,619) scale(0.896,1)" font-size="9.3" fill="#777" text-anchor="start" xml:space="preserve" >30-Jun</text>
<text transform="translate(392,627) scale(0.896,1)" font-size="9.3" fill="#777" text-anchor="start" xml:space="preserve" >2022</text>
<text transform="translate(427,619) scale(0.896,1)" font-size="9.3" fill="#777" text-anchor="start" xml:space="preserve" >29-Sep</text>
<text transform="translate(432,627) scale(0.896,1)" font-size="9.3" fill="#777" text-anchor="start" xml:space="preserve" >2023</text>
<text transform="translate(467,619) scale(0.896,1)" font-size="9.3" fill="#777" text-anchor="start" xml:space="preserve" >31-Dec</text>
<text transform="translate(472,627) scale(0.896,1)" font-size="9.3" fill="#777" text-anchor="start" xml:space="preserve" >2024</text>
<text transform="translate(507,619) scale(0.896,1)" font-size="9.3" fill="#777" text-anchor="start" xml:space="preserve" >18-Mar</text>
<text transform="translate(512,627) scale(0.896,1)" font-size="9.3" fill="#777" text-anchor="start" xml:space="preserve" >2026</text>
<text transform="translate(2,638) scale(0.896,1)" font-size="9.3" fill="#000" font-weight="bold" text-anchor="start" xml:space="preserve" >% K - HCS IMI Crossover,</text>
<rect x="125" y="630" width="39" height="10" fill="#009000" />
<text transform="translate(128,638) scale(0.896,1)" font-size="9.3" fill="#fff" font-weight="bold" text-anchor="start" xml:space="preserve" >Bullish</text>
<rect x="175" y="630" width="39" height="10" fill="#ff0000" />
<text transform="translate(178,638) scale(0.896,1)" font-size="9.3" fill="#fff" font-weight="bold" text-anchor="start" xml:space="preserve" >Bearish</text>
<text transform="translate(239,638) scale(0.896,1)" font-size="9.3" fill="#ff7f00" text-anchor="start" xml:space="preserve" >23.6-38.2-50-61.8% Fibonacci Retracements</text>
<text x="462.5" y="639" font-family="Liberation Sans, DejaVu Sans, sans-serif" font-size="13" font-weight="bold" fill="#808080">©</text>
<text transform="translate(475,638.7) scale(0.9044,1)" font-size="12.9" fill="#808080" font-weight="bold" text-anchor="start" xml:space="preserve" >HotCandlestick.com</text>
</svg>
</body></html>
